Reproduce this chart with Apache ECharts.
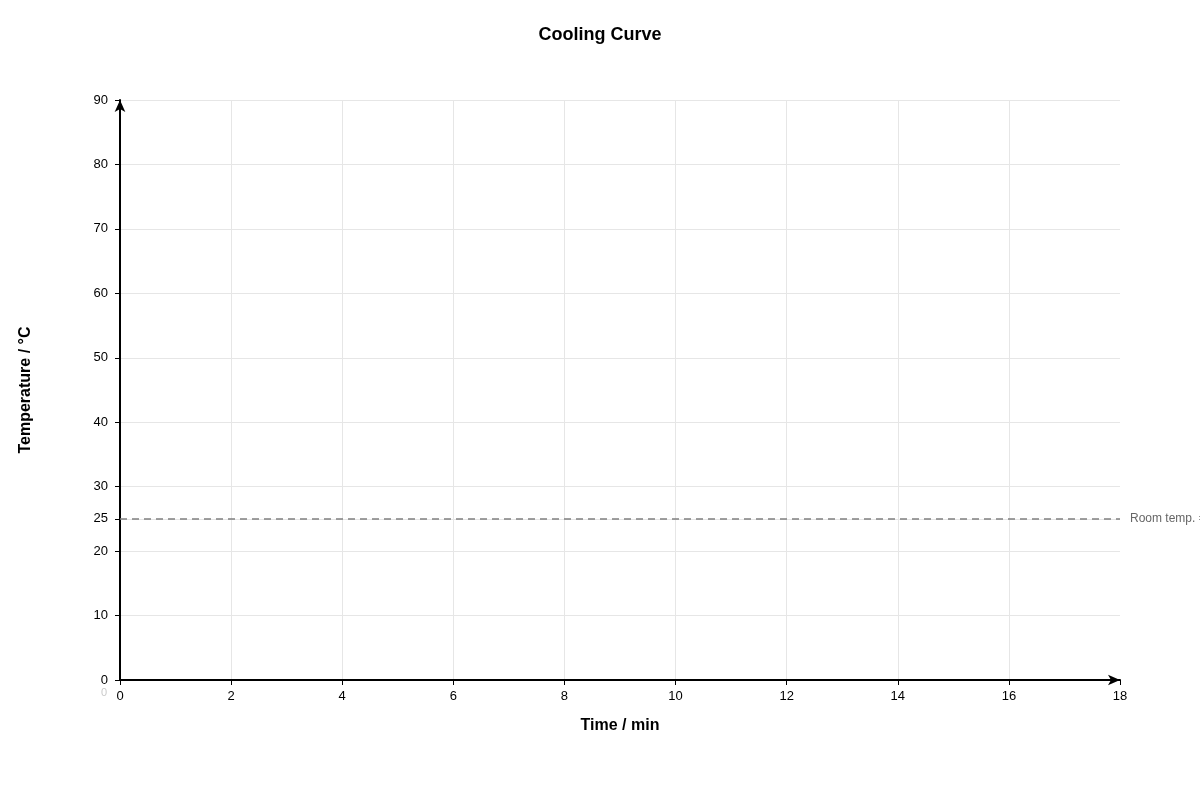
<!DOCTYPE html>
<html>
<head>
<meta charset="utf-8">
<script src="https://cdn.jsdelivr.net/npm/echarts@6/dist/echarts.min.js"></script>
<style>
html,body{margin:0;padding:0;background:#fff;}
#chart{width:1200px;height:800px;}
</style>
</head>
<body>
<div id="chart"></div>
<script>
const chartTitle = 'Cooling Curve';
const xAxisName = 'Time / min';
const yAxisName = 'Temperature / \u00B0C';
const yLabelValues = [0, 10, 20, 25, 30, 40, 50, 60, 70, 80, 90];
const roomTemp = 25;
const roomTempLabel = 'Room temp. = 25 \u00B0C';
const originPoint = [[0, 0]];

const FONT = '"Liberation Sans", Arial, Helvetica, sans-serif';
const chart = echarts.init(document.getElementById('chart'));
chart.setOption({
  animation: false,
  textStyle: { fontFamily: FONT },
  title: {
    text: chartTitle, left: 'center', top: 21,
    textStyle: { fontSize: 18, fontWeight: 'bold', color: '#000', fontFamily: FONT }
  },
  grid: { left: 120, right: 80, top: 100, bottom: 120 },
  xAxis: {
    type: 'value', min: 0, max: 18, interval: 2,
    name: xAxisName, nameLocation: 'middle', nameGap: 38,
    nameTextStyle: { fontSize: 16, fontWeight: 'bold', color: '#000', fontFamily: FONT },
    axisLine: { show: true, onZero: false, symbol: ['none', 'arrow'], symbolSize: [8, 12], lineStyle: { color: '#000', width: 2 } },
    axisTick: { show: true, length: 5, lineStyle: { color: '#000' } },
    axisLabel: { color: '#000', fontSize: 13, margin: 10, fontFamily: FONT },
    splitLine: { show: true, showMaxLine: false, lineStyle: { color: '#e6e6e6', width: 1 } }
  },
  yAxis: {
    type: 'value', min: 0, max: 90, interval: 10,
    name: yAxisName, nameLocation: 'middle', nameGap: 86, nameRotate: 90,
    nameTextStyle: { fontSize: 16, fontWeight: 'bold', color: '#000', fontFamily: FONT },
    axisLine: { show: true, onZero: false, symbol: ['none', 'arrow'], symbolSize: [8, 12], lineStyle: { color: '#000', width: 2 } },
    axisTick: { show: true, length: 5, customValues: yLabelValues, lineStyle: { color: '#000' } },
    axisLabel: { color: '#000', fontSize: 13, margin: 12, customValues: yLabelValues, fontFamily: FONT, padding: [4, 0, 0, 0] },
    splitLine: { show: true, lineStyle: { color: '#e6e6e6', width: 1 } }
  },
  series: [{
    type: 'scatter',
    data: originPoint,
    symbolSize: 0,
    silent: true,
    label: {
      show: true, formatter: '0', position: [-19, 7],
      color: '#bbbbbb', fontSize: 11, fontFamily: FONT
    },
    markLine: {
      silent: true,
      symbol: ['none', 'none'],
      lineStyle: { color: '#808080', type: [7, 5], width: 1.5 },
      label: { show: true, position: 'end', formatter: roomTempLabel, color: '#666', fontSize: 12, distance: 10, fontFamily: FONT, padding: [4, 0, 0, 0] },
      data: [{ yAxis: roomTemp }]
    }
  }]
});
</script>
</body>
</html>
